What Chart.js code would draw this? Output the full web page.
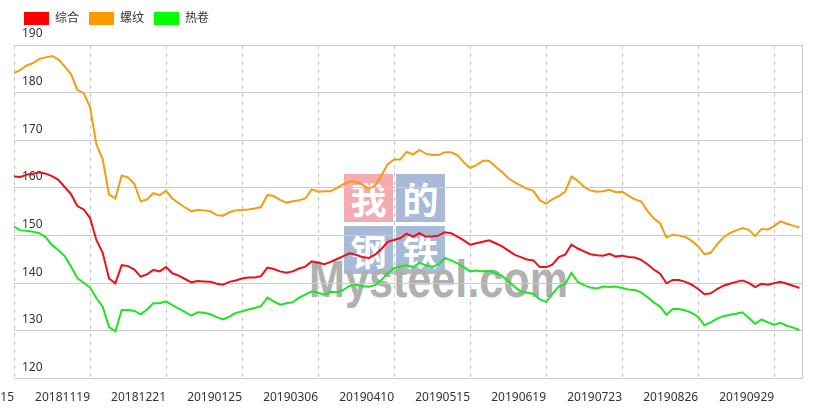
<!DOCTYPE html>
<html>
<head>
<meta charset="utf-8">
<script src="https://cdn.jsdelivr.net/npm/chart.js@4"></script>
<style>
  html, body { margin: 0; padding: 0; background: #fff; }
  #wrap { position: relative; width: 817px; height: 419px; overflow: hidden; }
  #chart { position: absolute; left: 0; top: 0; }
  .box { position: absolute; width: 49px; height: 48px; color: #fff; font: bold 36px/48px 'Noto Sans CJK SC', sans-serif; text-align: center; }
  .pink { background: #f4abb2; }
  .blue { background: #a9bad9; }
  #brand { position: absolute; left: 309px; top: 253px; font: bold 52px/52px 'Liberation Sans', Arial, sans-serif; color: #b0b0b0; transform: scaleX(0.83); transform-origin: left top; white-space: nowrap; }
</style>
</head>
<body>
<div id="wrap">
  <div class="box pink" style="left:344px;top:174px">我</div>
  <div class="box blue" style="left:396px;top:174px">的</div>
  <div class="box blue" style="left:344px;top:226px">钢</div>
  <div class="box blue" style="left:396px;top:226px">铁</div>
  <div id="brand">Mysteel.com</div>
  <canvas id="chart" width="817" height="419"></canvas>
</div>
<script>
const tickDates = ['20181015', '20181119', '20181221', '20190125', '20190306', '20190410',
  '20190515', '20190619', '20190723', '20190826', '20190929'];

const seriesNames = ['综合', '螺纹', '热卷'];

// 综合
const zonghe = [
  162.4,162.3,162.8,163.0,163.3,163.0,162.5,161.7,160.2,158.7,
  156.2,155.5,153.7,149.1,146.4,141.0,140.0,143.8,143.6,142.9,
  141.4,141.9,142.8,142.5,143.4,142.1,141.6,140.9,140.2,140.5,
  140.4,140.3,139.9,139.7,140.3,140.6,141.0,141.2,141.2,141.5,
  143.3,143.0,142.5,142.2,142.5,143.1,143.5,144.6,144.3,144.0,
  144.5,145.1,145.7,146.3,146.0,145.5,145.3,146.0,147.2,148.7,
  149.1,149.5,150.4,149.8,150.5,149.8,149.8,150.0,150.7,150.5,
  149.8,149.0,148.1,148.4,148.7,149.0,148.4,147.8,146.9,146.0,
  145.5,145.0,144.8,143.4,143.4,143.9,145.5,146.0,148.1,147.3,
  146.7,146.1,145.9,145.8,146.2,145.6,145.8,145.5,145.4,144.9,
  144.0,142.9,142.0,140.0,140.7,140.7,140.3,139.7,138.8,137.7,
  137.9,138.8,139.5,139.9,140.3,140.6,140.1,139.2,139.9,139.7,
  140.0,140.3,139.9,139.5,139.0
];

// 螺纹
const luowen = [
  184.1,184.8,185.7,186.2,187.1,187.4,187.7,187.0,185.5,183.9,
  180.6,179.9,177.0,169.2,166.0,158.6,157.8,162.6,162.2,160.9,
  157.2,157.6,158.9,158.5,159.4,157.8,156.8,155.9,155.1,155.4,
  155.3,155.1,154.3,154.2,154.9,155.3,155.4,155.5,155.7,156.0,
  158.5,158.3,157.5,156.9,157.2,157.4,157.8,159.7,159.2,159.3,
  159.3,160.0,160.8,161.4,161.3,160.7,159.8,160.5,162.6,165.0,
  166.0,166.0,167.6,167.0,168.0,167.2,166.9,166.9,167.5,167.5,
  166.9,165.4,164.2,164.8,165.7,165.7,164.5,163.4,162.1,161.2,
  160.5,159.8,159.4,157.4,156.7,157.6,158.3,159.2,162.4,161.5,
  160.2,159.5,159.2,159.3,159.6,159.1,159.2,158.4,157.6,157.2,
  155.2,153.6,152.6,149.6,150.2,150.0,149.7,148.9,147.8,146.1,
  146.4,148.2,149.6,150.5,151.1,151.6,151.2,149.9,151.4,151.3,
  152.0,153.0,152.5,152.1,151.7
];

// 热卷
const rejuan = [
  151.9,151.1,151.0,150.8,150.5,149.7,148.0,147.0,145.7,143.5,
  141.1,140.1,139.1,136.9,135.1,130.8,129.9,134.4,134.4,134.2,
  133.5,134.5,135.8,135.8,136.2,135.4,134.7,134.0,133.2,133.9,
  133.8,133.5,132.9,132.4,133.0,133.8,134.1,134.5,134.8,135.2,
  137.0,136.2,135.5,135.8,136.0,137.0,137.6,138.3,138.0,137.6,
  138.2,138.1,138.6,139.5,139.7,139.4,139.3,139.6,140.7,142.1,
  143.2,143.5,143.8,143.4,144.3,143.8,143.5,143.9,145.3,144.8,
  144.2,143.4,142.5,142.7,142.5,142.6,142.2,141.6,140.5,139.3,
  138.3,138.0,137.8,136.6,136.1,137.8,139.3,139.8,142.2,140.3,
  139.6,139.1,138.9,139.3,139.2,139.3,139.0,138.7,138.6,138.1,
  137.1,136.0,135.1,133.4,134.6,134.6,134.3,133.8,133.0,131.2,
  131.8,132.6,133.1,133.4,133.6,133.9,132.7,131.5,132.4,131.8,
  131.3,131.7,131.1,130.7,130.2
];

const yTicks = { min: 120, max: 190, step: 10 };
const TICK_EVERY = 12; // samples between date labels

const toPoints = arr => arr.map((v, i) => ({ x: i, y: v }));

Chart.defaults.font.family = "'Noto Sans', 'Noto Sans CJK SC', sans-serif";
Chart.defaults.font.size = 12;
Chart.defaults.color = '#333';

// right edge of the plot frame
const frame = {
  id: 'frame',
  beforeDatasetsDraw(chart) {
    const { ctx, chartArea: a } = chart;
    ctx.save();
    ctx.strokeStyle = '#c8c8c8';
    ctx.lineWidth = 1;
    ctx.beginPath();
    ctx.moveTo(Math.round(a.right) + 0.5, a.top);
    ctx.lineTo(Math.round(a.right) + 0.5, a.bottom);
    ctx.stroke();
    ctx.restore();
  }
};

const line = (label, data, fill, stroke) => ({
  label,
  data: toPoints(data),
  backgroundColor: fill,
  borderColor: stroke,
  borderWidth: 2,
  pointRadius: 0,
  tension: 0
});

new Chart(document.getElementById('chart'), {
  type: 'line',
  data: {
    datasets: [
      line(seriesNames[0], zonghe, '#ff0000', '#ec1018'),
      line(seriesNames[1], luowen, '#ff9900', '#f59c12'),
      line(seriesNames[2], rejuan, '#00ff00', '#1fe41f')
    ]
  },
  options: {
    responsive: false,
    devicePixelRatio: 1,
    animation: false,
    layout: { padding: { left: 14, right: 15, top: 2, bottom: 2 } },
    plugins: {
      legend: {
        position: 'top',
        align: 'start',
        labels: {
          boxWidth: 25,
          boxHeight: 13,
          padding: 10,
          generateLabels: chart => Chart.defaults.plugins.legend.labels.generateLabels(chart)
            .map(l => ({ ...l, lineWidth: 0, strokeStyle: l.fillStyle }))
        }
      },
      // empty spacer between legend and plot
      title: {
        display: true,
        text: ' ',
        weight: 500,
        font: { size: 5 },
        padding: { top: 0, bottom: 4 }
      },
      tooltip: { enabled: false }
    },
    scales: {
      x: {
        type: 'linear',
        min: 0,
        max: 124.4,
        grid: { color: '#c8c8c8', drawTicks: false },
        border: { display: false, dash: [4, 4] },
        ticks: {
          stepSize: TICK_EVERY,
          includeBounds: false,
          autoSkip: false,
          maxRotation: 0,
          align: 'end',
          padding: 12,
          callback: v => tickDates[Math.round(v / TICK_EVERY)] || ''
        },
        afterFit: s => { s.paddingLeft = 0; s.paddingRight = 0; }
      },
      y: {
        min: yTicks.min,
        max: yTicks.max,
        grid: { color: '#cbcbcb', drawTicks: false },
        border: { display: false },
        ticks: {
          stepSize: yTicks.step,
          mirror: true,
          padding: 8,
          labelOffset: -11
        },
        afterFit: s => { s.width = 0; s.paddingTop = 0; s.paddingBottom = 0; }
      }
    }
  },
  plugins: [frame]
});
</script>
</body>
</html>
